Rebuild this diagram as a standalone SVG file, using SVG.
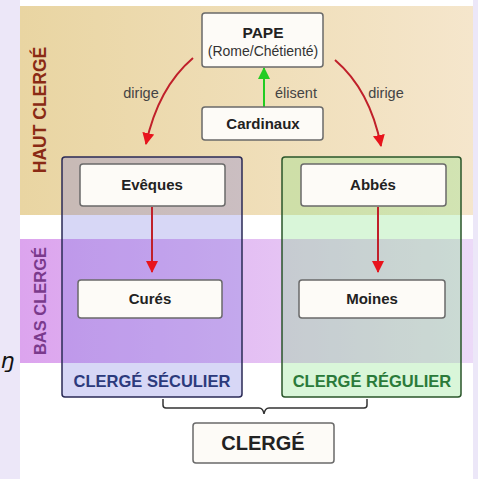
<svg xmlns="http://www.w3.org/2000/svg" width="478" height="479" viewBox="0 0 478 479">
<defs>
<linearGradient id="beige" x1="0" y1="0" x2="1" y2="0">
<stop offset="0" stop-color="#e9d5a2"/><stop offset="1" stop-color="#f5e6cc"/>
</linearGradient>
<linearGradient id="pink" x1="0" y1="0" x2="1" y2="0">
<stop offset="0" stop-color="#dca4ee"/><stop offset="1" stop-color="#ecdaf8"/>
</linearGradient>
<marker id="ar" markerWidth="12" markerHeight="12" refX="11" refY="6" orient="auto" markerUnits="userSpaceOnUse" viewBox="0 0 12 12">
<path d="M0,0 L12,6 L0,12 z" fill="#e8141c"/>
</marker>
<marker id="ag" markerWidth="12" markerHeight="12" refX="11" refY="6" orient="auto" markerUnits="userSpaceOnUse" viewBox="0 0 12 12">
<path d="M0,0 L12,6 L0,12 z" fill="#22cc22"/>
</marker>
<style>
.node{fill:#fdfbf7;stroke:#6a6a6a;stroke-width:1.5}
.t{font-family:"Liberation Sans",Arial,sans-serif;text-anchor:middle}
.b{font-weight:bold;fill:#222}
.lbl{font-size:14.5px;fill:#444}
.red{stroke:#c0202a;stroke-width:2;fill:none}
</style>
</defs>
<rect x="0" y="0" width="478" height="479" fill="#ffffff"/>
<rect x="0" y="0" width="20" height="479" fill="#ece7f8"/>
<rect x="473" y="0" width="5" height="479" fill="#ece7f8"/>
<text x="1" y="368" font-family="'DejaVu Sans',sans-serif" font-style="italic" font-size="22" fill="#111">ŋ</text>
<g id="bands">
<rect x="20" y="6" width="453" height="209" fill="url(#beige)"/>
<rect x="20" y="239" width="453" height="124" fill="url(#pink)"/>
<text class="t" transform="translate(46,110) rotate(-90)" font-size="17.5" font-weight="bold" fill="#8a2a14">HAUT CLERGÉ</text>
<text class="t" transform="translate(46,301) rotate(-90)" font-size="16.5" font-weight="bold" fill="#7a3a8c">BAS CLERGÉ</text>
</g>
<g id="seculier">
<rect x="62" y="157" width="180" height="240" rx="3" fill="#7070e0" fill-opacity="0.28" stroke="#2a2a55" stroke-width="1.5"/>
<text class="t" x="152" y="387" font-size="16.5" font-weight="bold" fill="#2c3a7c">CLERGÉ SÉCULIER</text>
</g>
<g id="regulier">
<rect x="282" y="157" width="179" height="240" rx="3" fill="#78e078" fill-opacity="0.28" stroke="#2a552a" stroke-width="1.5"/>
<text class="t" x="372" y="387" font-size="16.5" font-weight="bold" fill="#2a7a3a">CLERGÉ RÉGULIER</text>
</g>
<g id="connectors">
<path class="red" d="M193,58 Q158,88 146,144" marker-end="url(#ar)"/>
<path class="red" d="M335,60 Q370,90 381,146" marker-end="url(#ar)"/>
<line x1="152" y1="207" x2="152" y2="272" class="red" marker-end="url(#ar)"/>
<line x1="378" y1="207" x2="378" y2="272" class="red" marker-end="url(#ar)"/>
<line x1="264" y1="107" x2="264" y2="68" stroke="#22cc22" stroke-width="2" marker-end="url(#ag)"/>
<path d="M163,399 V405 Q163,408 166,408 H259 Q263,408 264,414 Q265,408 269,408 H364 Q367,408 367,405 V399" fill="none" stroke="#333" stroke-width="1.5"/>
<text class="t lbl" x="141" y="98">dirige</text>
<text class="t lbl" x="386" y="98">dirige</text>
<text class="t lbl" x="296" y="98">élisent</text>
</g>
<g id="pape">
<rect class="node" x="202" y="13" width="121" height="54" rx="3"/>
<text class="t b" x="263" y="38" font-size="15.5">PAPE</text>
<text class="t" x="263" y="56" font-size="14" fill="#333">(Rome/Chétienté)</text>
</g>
<g id="cardinaux">
<rect class="node" x="202" y="107" width="121" height="33" rx="3"/>
<text class="t b" x="263" y="129" font-size="15">Cardinaux</text>
</g>
<g id="eveques">
<rect class="node" x="80" y="164" width="145" height="42" rx="3"/>
<text class="t b" x="152" y="190" font-size="15">Evêques</text>
</g>
<g id="abbes">
<rect class="node" x="301" y="164" width="145" height="42" rx="3"/>
<text class="t b" x="373" y="190" font-size="15">Abbés</text>
</g>
<g id="cures">
<rect class="node" x="78" y="280" width="144" height="38" rx="3"/>
<text class="t b" x="150" y="304" font-size="15">Curés</text>
</g>
<g id="moines">
<rect class="node" x="299" y="280" width="146" height="38" rx="3"/>
<text class="t b" x="372" y="304" font-size="15">Moines</text>
</g>
<g id="clerge">
<rect class="node" x="193" y="423" width="141" height="40" rx="3"/>
<text class="t b" x="263" y="450" font-size="20">CLERGÉ</text>
</g>
</svg>
